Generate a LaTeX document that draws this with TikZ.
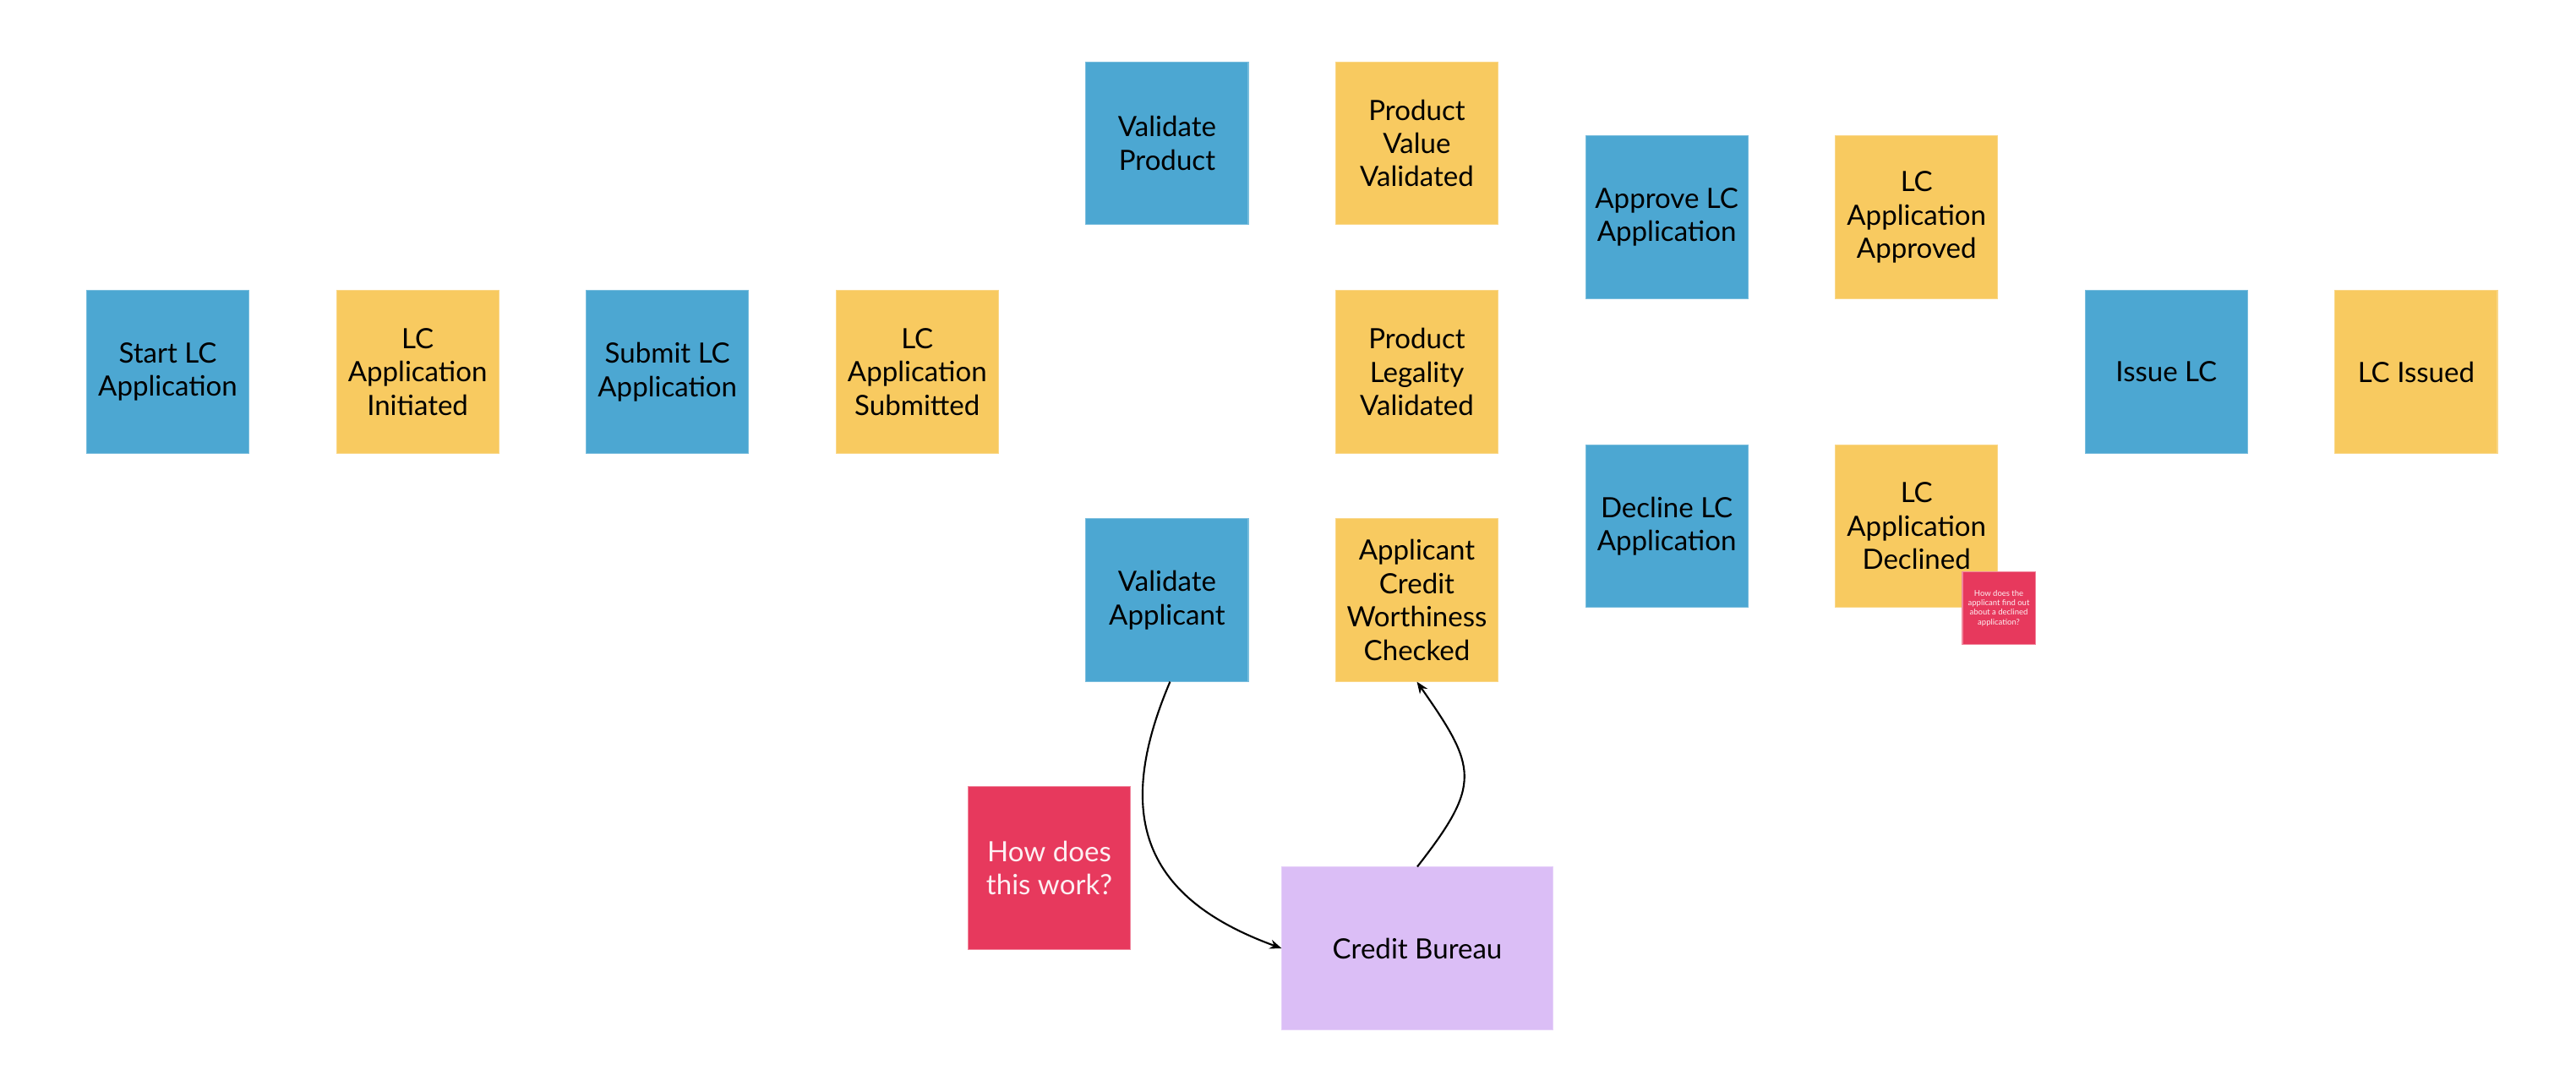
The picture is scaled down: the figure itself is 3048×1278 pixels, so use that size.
\documentclass[tikz,border=0pt]{standalone}
\usepackage{fontspec}
\setmainfont{Lato}
\usetikzlibrary{arrows.meta}

\definecolor{cmdblue}{HTML}{4CA7D2}
\definecolor{evtyellow}{HTML}{F8CA60}
\definecolor{notered}{HTML}{E7395D}
\definecolor{syspurple}{HTML}{DBBEF6}

\begin{document}
\begin{tikzpicture}[x=0.01cm, y=0.01cm,
    sticky/.style={minimum width=1.92cm, minimum height=1.92cm, inner sep=0pt,
        align=center, font=\fontsize{9.4}{11.2}\selectfont, line width=0.3pt},
    cmd/.style={sticky, fill=cmdblue, draw=cmdblue!75!white},
    evt/.style={sticky, fill=evtyellow, draw=evtyellow!75!white},
    note/.style={sticky, fill=notered, draw=notered!60!white, text=white!92!notered},
    ext/.style={sticky, minimum width=3.2cm, fill=syspurple, draw=syspurple!70!white},
    flow/.style={black, line width=0.6pt, -{Stealth[length=1.4mm, width=1.1mm]}}]
    % 畫布
    \fill[white] (0,0) rectangle (3048,-1278);
    % 主流程
    \node[cmd] (startlc) at (198.5,-440) {Start LC\\Application};
    \node[evt] (initiated) at (494.1,-440) {LC\\Application\\Initiated};
    \node[cmd] (submitlc) at (789.7,-440) {Submit LC\\Application};
    \node[evt] (submitted) at (1085.3,-440) {LC\\Application\\Submitted};
    % 產品檢查
    \node[cmd] (valprod) at (1380.9,-169.5) {Validate\\Product};
    \node[evt] (valuevalid) at (1676.5,-169.5) {Product\\Value\\Validated};
    \node[evt] (legalvalid) at (1676.5,-440) {Product\\Legality\\Validated};
    % 申請人檢查
    \node[cmd] (valappl) at (1380.9,-710) {Validate\\Applicant};
    \node[evt] (credchecked) at (1676.5,-710) {Applicant\\Credit\\Worthiness\\Checked};
    % 核准 / 拒絕
    \node[cmd] (approvelc) at (1972.1,-257) {Approve LC\\Application};
    \node[evt] (approved) at (2267.7,-257) {LC\\Application\\Approved};
    \node[cmd] (declinelc) at (1972.1,-622.5) {Decline LC\\Application};
    \node[evt] (declined) at (2267.7,-622.5) {LC\\Application\\Declined};
    % 開立
    \node[cmd] (issuelc) at (2563.3,-440) {Issue LC};
    \node[evt] (issued) at (2858.9,-440) {LC Issued};
    % 問題便條
    \node[note, minimum width=0.86cm, minimum height=0.86cm, font=\fontsize{2.7}{3.2}\selectfont]
        (declinenote) at (2365,-719.5) {How does the\\applicant find out\\about a declined\\application?};
    \node[note] (worknote) at (1241.5,-1027) {How does\\this work?};
    % 外部系統
    \node[ext] (bureau) at (1677,-1122) {Credit Bureau};
    % 連線
    \draw[flow] ([xshift=1pt]valappl.south) to[out=-113, in=160, looseness=1.3] (bureau.west);
    \draw[flow] (bureau.north) to[out=52, in=-55, looseness=1.45] (credchecked.south);
\end{tikzpicture}
\end{document}
